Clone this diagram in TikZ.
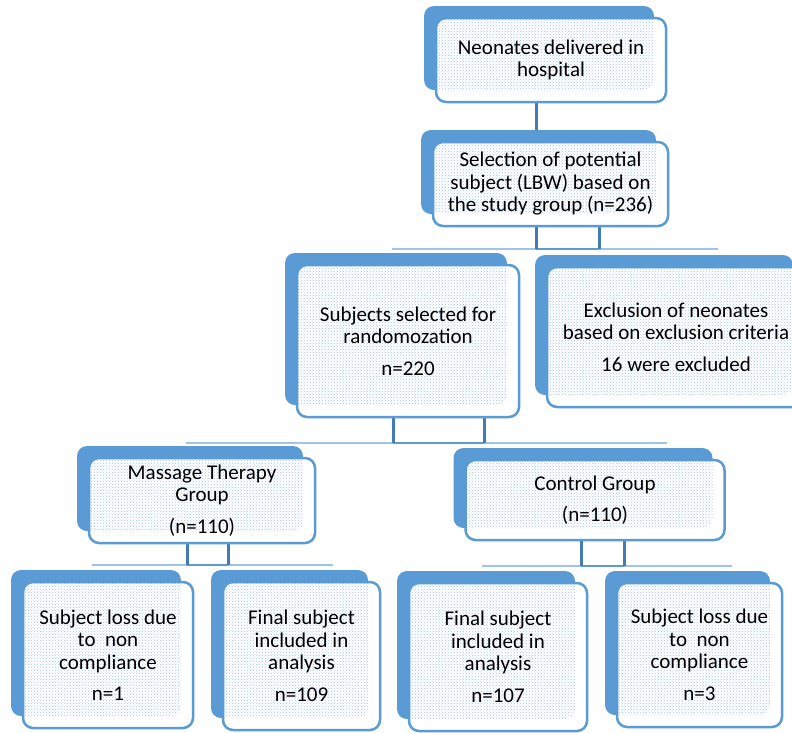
\documentclass[tikz,border=0pt]{standalone}
\usepackage{fontspec}
\setmainfont{Carlito}
\usetikzlibrary{shadows, patterns, backgrounds}
\definecolor{myblue}{RGB}{91,155,213}
\definecolor{mydarkblue}{RGB}{68,122,182}
\definecolor{mylightblue}{RGB}{160,196,230}
\definecolor{mydots}{RGB}{170,198,232}

\tikzset{
  box/.style={draw=myblue, line width=2.5pt, fill=white, rounded corners=10pt, align=center, inner sep=2pt,
    font=\fontsize{21}{22.5}\selectfont,
    general shadow={fill=myblue, shadow xshift=-12pt, shadow yshift=12pt},
    path picture={\fill[pattern=crosshatch dots, pattern color=mydots, rounded corners=10pt]
      ([xshift=-12pt,yshift=12pt]path picture bounding box.south west) rectangle
      ([xshift=-12pt,yshift=12pt]path picture bounding box.north east);}},
  vline/.style={draw=mydarkblue, line width=3pt},
  bus/.style={draw=mylightblue, line width=1.5pt},
  busmid/.style={draw=myblue, line width=2pt}
}

\begin{document}
\begin{tikzpicture}[x=1pt, y=-1pt]

\useasboundingbox (0,0) rectangle (792,732);

\node[box, minimum width=230pt, minimum height=84pt] (B1) at (551,60) {Neonates delivered in\\hospital};
\node[box, minimum width=235pt, minimum height=84pt] (B2) at (550.5,184) {Selection of potential\\subject (LBW) based on\\the study group (n=236)};

\node[box, minimum width=222pt, minimum height=152pt] (B3) at (408,341) {Subjects selected for\\randomozation\\[9pt]n=220};
\node[box, minimum width=258pt, minimum height=140pt] (B4) at (676,337) {Exclusion of neonates\\based on exclusion criteria\\[9pt]16 were excluded};

\node[box, minimum width=226pt, minimum height=85pt] (B5) at (202,500.5) {Massage Therapy\\Group\\[9pt](n=110)};
\node[box, minimum width=259pt, minimum height=80pt] (B6) at (595,500) {Control Group\\[9pt](n=110)};

\node[box, minimum width=170pt, minimum height=146pt] (B7) at (108,655) {Subject loss due\\to~ non\\compliance\\[9pt]n=1};
\node[box, minimum width=157pt, minimum height=148pt] (B8) at (301.5,656) {Final subject\\included in\\analysis\\[9pt]n=109};
\node[box, minimum width=178pt, minimum height=148pt] (B9) at (498,657) {Final subject\\included in\\analysis\\[9pt]n=107};
\node[box, minimum width=165pt, minimum height=144pt] (B10) at (699.5,655) {Subject loss due\\to~ non\\compliance\\[9pt]n=3};

\coordinate (L1a) at (392,249);
\coordinate (L1b) at (718,249);
\coordinate (L2a) at (186,443);
\coordinate (L2b) at (667,443);
\coordinate (L3a) at (92,565);
\coordinate (L3b) at (333,565);
\coordinate (L4a) at (482,566);
\coordinate (L4b) at (732,566);

\begin{scope}[on background layer]
\draw[vline] ([xshift=-15pt]B1.south) -- ([xshift=-15pt]B1.south |- B2.north);

\draw[bus] (L1a) -- (L1b);
\draw[busmid] ([xshift=-14.5pt]B2.south |- L1a) -- ([xshift=48.5pt]B2.south |- L1a);
\draw[vline] ([xshift=-14.5pt]B2.south) -- ([xshift=-14.5pt]B2.south |- L1a);
\draw[vline] ([xshift=48.5pt]B2.south) -- ([xshift=48.5pt]B2.south |- L1a);

\draw[bus] (L2a) -- (L2b);
\draw[busmid] ([xshift=-15pt]B3.south |- L2a) -- ([xshift=76pt]B3.south |- L2a);
\draw[vline] ([xshift=-15pt]B3.south) -- ([xshift=-15pt]B3.south |- L2a);
\draw[vline] ([xshift=76pt]B3.south) -- ([xshift=76pt]B3.south |- L2a);

\draw[bus] (L3a) -- (L3b);
\draw[busmid] ([xshift=-15pt]B5.south |- L3a) -- ([xshift=26pt]B5.south |- L3a);
\draw[vline] ([xshift=-15pt]B5.south) -- ([xshift=-15pt]B5.south |- L3a);
\draw[vline] ([xshift=26pt]B5.south) -- ([xshift=26pt]B5.south |- L3a);

\draw[bus] (L4a) -- (L4b);
\draw[busmid] ([xshift=-14pt]B6.south |- L4a) -- ([xshift=29pt]B6.south |- L4a);
\draw[vline] ([xshift=-14pt]B6.south) -- ([xshift=-14pt]B6.south |- L4a);
\draw[vline] ([xshift=29pt]B6.south) -- ([xshift=29pt]B6.south |- L4a);
\end{scope}

\end{tikzpicture}
\end{document}
